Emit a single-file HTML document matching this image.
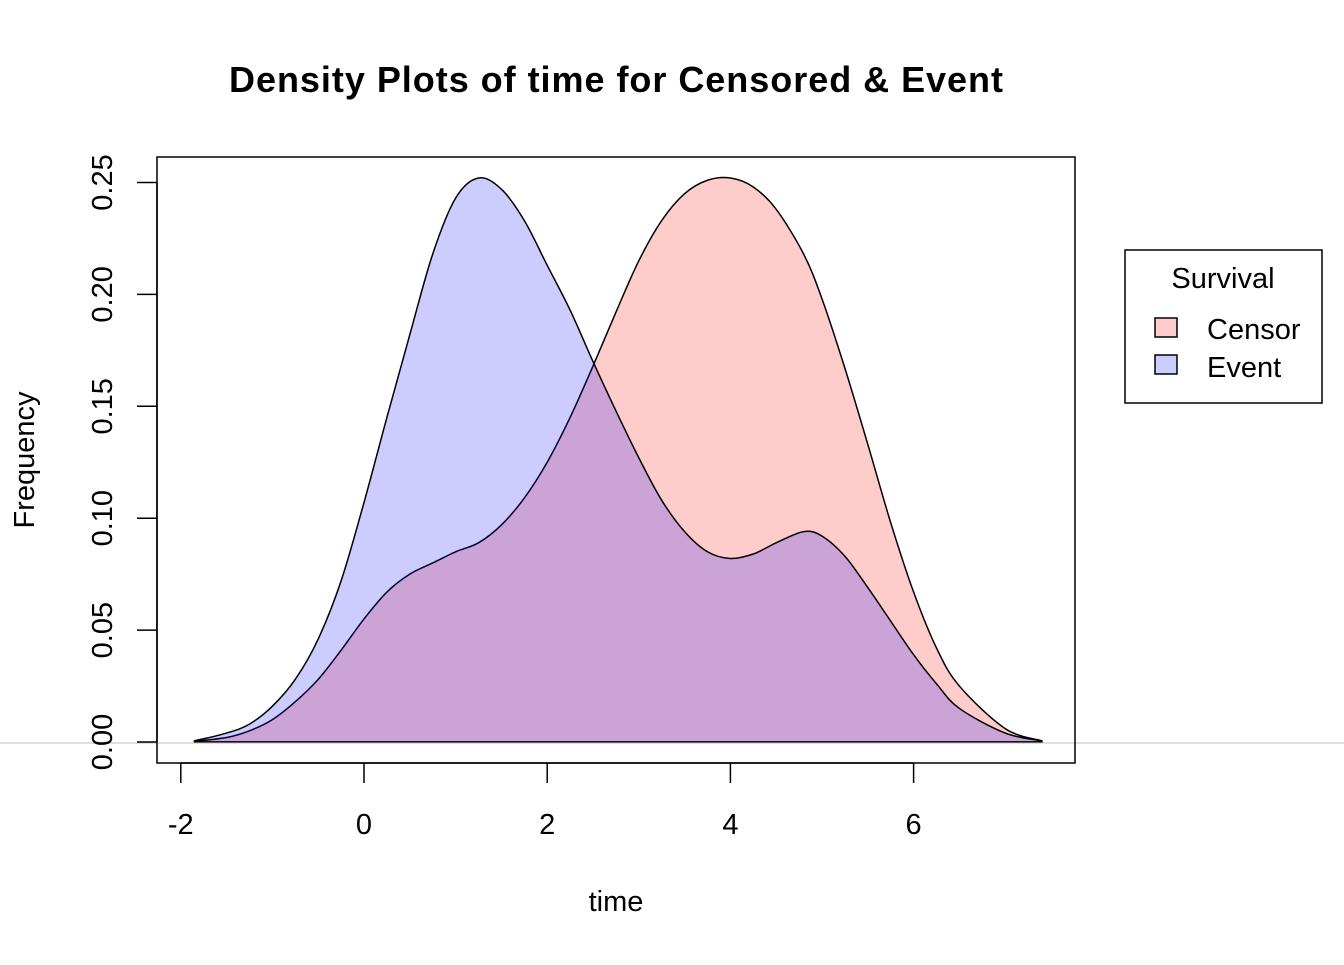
<!DOCTYPE html>
<html><head><meta charset="utf-8"><style>
body{margin:0;background:#fff}
svg text{font-family:"Liberation Sans",Arial,sans-serif}
</style></head><body>
<svg id="chart" width="1344" height="960" xmlns="http://www.w3.org/2000/svg">
<text x="616" y="92" text-anchor="middle" font-size="36" font-weight="bold" textLength="774">Density Plots of time for Censored &amp; Event</text>
<g id="marks"></g>
<line x1="0" y1="743" x2="1344" y2="743" stroke="#bebebe" stroke-width="1"/>
<rect x="157" y="157" width="918" height="606" fill="none" stroke="#000" stroke-width="1.5"/>
<g id="xaxis"></g>
<g id="yaxis"></g>
<text x="616" y="911" text-anchor="middle" font-size="29">time</text>
<text transform="translate(34,460) rotate(-90)" text-anchor="middle" font-size="29">Frequency</text>
<g>
<rect x="1125" y="250" width="197" height="153" fill="#fff" stroke="#000" stroke-width="1.5"/>
<text x="1223" y="288" text-anchor="middle" font-size="29">Survival</text>
<rect x="1155" y="318" width="22" height="19" fill="#ffcccc" stroke="#000" stroke-width="1.5"/>
<text x="1207" y="339" font-size="29">Censor</text>
<rect x="1155" y="355" width="22" height="19" fill="#ccccff" stroke="#000" stroke-width="1.5"/>
<text x="1207" y="377" font-size="29">Event</text>
</g>
</svg>
<script>
const xs = [-1.85,-1.5,-1.25,-1,-0.75,-0.5,-0.25,0,0.25,0.5,0.75,1,1.25,1.5,1.75,2,2.25,2.5,2.75,3,3.25,3.5,3.75,4,4.25,4.5,4.8,5,5.25,5.5,5.75,6,6.25,6.5,7,7.4];
const eventVals = [0.0005,0.004,0.008,0.016,0.028,0.046,0.072,0.107,0.145,0.182,0.218,0.243,0.252,0.247,0.233,0.213,0.193,0.17,0.148,0.127,0.108,0.094,0.085,0.082,0.084,0.089,0.094,0.092,0.083,0.069,0.054,0.039,0.026,0.015,0.004,0.0005];
const censorVals = [0.0003,0.002,0.005,0.01,0.018,0.028,0.041,0.055,0.067,0.075,0.08,0.085,0.089,0.097,0.109,0.125,0.145,0.168,0.192,0.215,0.233,0.245,0.251,0.252,0.248,0.238,0.218,0.198,0.167,0.133,0.098,0.067,0.042,0.025,0.006,0.0005];
const xTicks = [-2,0,2,4,6];
const yTicks = ["0.00","0.05","0.10","0.15","0.20","0.25"];
const X = v => 364 + (v)*91.6;
const Y = v => 742 - v*2238;
const NS="http://www.w3.org/2000/svg";
function path(vals){
  const p = xs.map((x,i)=>[X(x),Y(vals[i])]);
  let d = `M${p[0][0]},${Y(0)} L${p[0][0]},${p[0][1]}`;
  for(let i=0;i<p.length-1;i++){
    const p0=p[Math.max(i-1,0)],p1=p[i],p2=p[i+1],p3=p[Math.min(i+2,p.length-1)];
    const c1=[p1[0]+(p2[0]-p0[0])/6,p1[1]+(p2[1]-p0[1])/6];
    const c2=[p2[0]-(p3[0]-p1[0])/6,p2[1]-(p3[1]-p1[1])/6];
    d+=` C${c1[0]},${c1[1]} ${c2[0]},${c2[1]} ${p2[0]},${p2[1]}`;
  }
  d+=` L${p[p.length-1][0]},${Y(0)} Z`;
  return d;
}
const g=document.getElementById('marks');
const pc=document.createElementNS(NS,'path');
pc.setAttribute('d',path(censorVals));pc.setAttribute('fill','rgba(255,0,0,0.2)');pc.setAttribute('stroke','#000');pc.setAttribute('stroke-width','1.5');


g.appendChild(pc);
const pe=document.createElementNS(NS,'path');
pe.setAttribute('d',path(eventVals));pe.setAttribute('fill','rgba(0,0,255,0.2)');pe.setAttribute('stroke','#000');pe.setAttribute('stroke-width','1.5');


g.appendChild(pe);
const xa=document.getElementById('xaxis');
let l=document.createElementNS(NS,'line');
l.setAttribute('x1',X(xTicks[0]));l.setAttribute('x2',X(xTicks[xTicks.length-1]));l.setAttribute('y1',763);l.setAttribute('y2',763);l.setAttribute('stroke','#000');l.setAttribute('stroke-width','1.5');


xa.appendChild(l);
xTicks.forEach(t=>{
  const tk=document.createElementNS(NS,'line');
  tk.setAttribute('x1',X(t));tk.setAttribute('x2',X(t));tk.setAttribute('y1',763);tk.setAttribute('y2',783);tk.setAttribute('stroke','#000');tk.setAttribute('stroke-width','1.5');
  
  
  xa.appendChild(tk);
  const tx=document.createElementNS(NS,'text');
  tx.setAttribute('x',X(t));tx.setAttribute('y',834);tx.setAttribute('text-anchor','middle');tx.setAttribute('font-size','29');
  tx.textContent=t;
  
  
  xa.appendChild(tx);
});
const ya=document.getElementById('yaxis');
l=document.createElementNS(NS,'line');
l.setAttribute('x1',157);l.setAttribute('x2',157);l.setAttribute('y1',Y(0));l.setAttribute('y2',Y(parseFloat(yTicks[yTicks.length-1])));l.setAttribute('stroke','#000');l.setAttribute('stroke-width','1.5');


ya.appendChild(l);
yTicks.forEach(t=>{
  const v=parseFloat(t);
  const tk=document.createElementNS(NS,'line');
  tk.setAttribute('x1',137);tk.setAttribute('x2',157);tk.setAttribute('y1',Y(v));tk.setAttribute('y2',Y(v));tk.setAttribute('stroke','#000');tk.setAttribute('stroke-width','1.5');
  
  
  ya.appendChild(tk);
  const tx=document.createElementNS(NS,'text');
  tx.setAttribute('transform',`translate(112,${Y(v)}) rotate(-90)`);tx.setAttribute('text-anchor','middle');tx.setAttribute('font-size','29');
  tx.textContent=t;
  
  
  ya.appendChild(tx);
});
</script>
</body></html>
